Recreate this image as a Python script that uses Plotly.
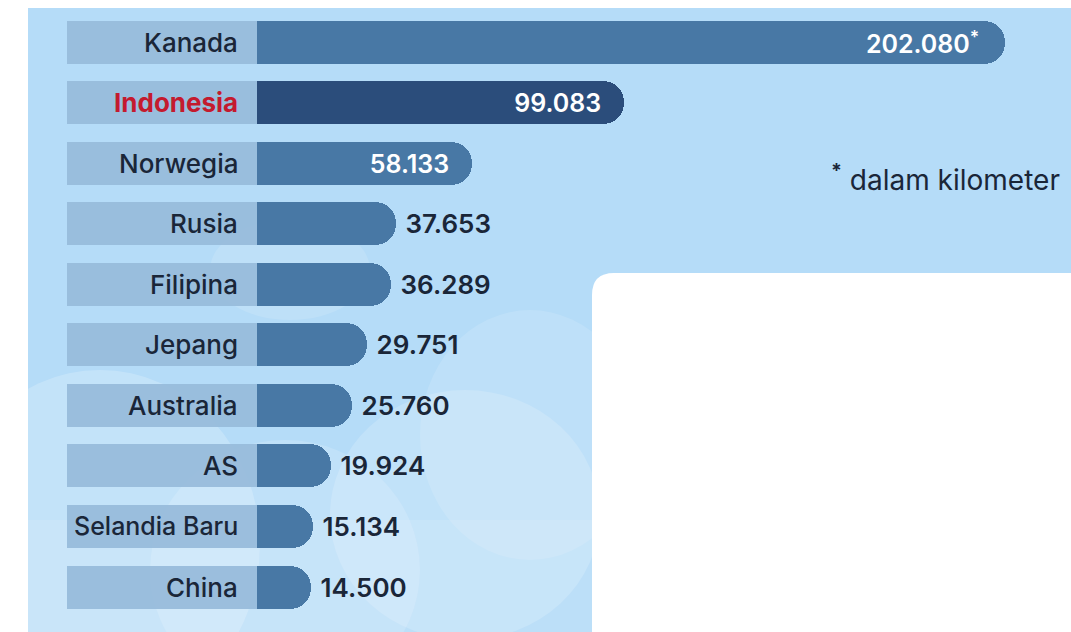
import plotly.graph_objects as go

# ---- data ----
countries = ["Kanada", "Indonesia", "Norwegia", "Rusia", "Filipina",
             "Jepang", "Australia", "AS", "Selandia Baru", "China"]
coastline_km = [202080, 99083, 58133, 37653, 36289,
                29751, 25760, 19924, 15134, 14500]
value_labels = ["202.080<sup>*</sup>", "99.083", "58.133", "37.653", "36.289",
                "29.751", "25.760", "19.924", "15.134", "14.500"]
highlight = "Indonesia"
note_text = "<sup><b>*</b></sup>\u00a0dalam kilometer"

# ---- layout constants (pixels) ----
W, H = 1071, 632
FONT = "Inter"
PX_PER_UNIT = 748 / 202080.0   # axis scale (px per km)
ZERO_PX = 257          # where bars start
BOX_LEFT_PX = 67       # label box left edge
LABEL_RIGHT_PX = 240   # right edge of country names
ROW0_PX = 42           # first row centre
ROW_STEP = 60.56       # row spacing
BAR_H_PX = 43

x_min = -ZERO_PX / PX_PER_UNIT
x_max = (W - ZERO_PX) / PX_PER_UNIT
y_top = -ROW0_PX / ROW_STEP
y_bot = (H - ROW0_PX) / ROW_STEP
bar_w = BAR_H_PX / ROW_STEP
box_len = (ZERO_PX - BOX_LEFT_PX) / PX_PER_UNIT

def fx(px):
    return px / W

def fy(py):
    return 1 - py / H

bar_colors = ["#2b4d7b" if c == highlight else "#4878a5" for c in countries]
positions = ["inside" if i < 3 else "outside" for i in range(len(countries))]
shown_text = [(t + "\u2002") if p == "inside" else ("\u00a0" + t)
              for t, p in zip(value_labels, positions)]

fig = go.Figure()

# label boxes
fig.add_trace(go.Bar(
    y=countries, x=[box_len] * len(countries), base=[-box_len] * len(countries),
    orientation="h", width=bar_w,
    marker=dict(color="rgba(152,188,219,0.95)", line=dict(width=0)),
    hoverinfo="skip", showlegend=False,
))

# value bars
fig.add_trace(go.Bar(
    y=countries, x=coastline_km, orientation="h", width=bar_w,
    marker=dict(color=bar_colors, line=dict(width=0), cornerradius=BAR_H_PX // 2),
    text=shown_text, textposition=positions, insidetextanchor="end",
    insidetextfont=dict(family=FONT, size=25, color="white", weight=600),
    outsidetextfont=dict(family=FONT, size=26, color="#1a2638", weight=600),
    textangle=0, cliponaxis=False, constraintext="none",
    showlegend=False,
))

annotations = []
for c in countries:
    annotations.append(dict(
        x=-(ZERO_PX - LABEL_RIGHT_PX) / PX_PER_UNIT, y=c, xref="x", yref="y",
        text=c, showarrow=False, xanchor="right", yanchor="middle",
        font=dict(family=FONT, size=26 if c != "Selandia Baru" else 25,
                  color="#c41a2e" if c == highlight else "#1a2638",
                  weight=700 if c == highlight else 500),
    ))
annotations.append(dict(
    x=fx(1062), y=fy(178), xref="paper", yref="paper", text=note_text,
    showarrow=False, xanchor="right", yanchor="middle",
    font=dict(family=FONT, size=28, color="#1a2638"),
))

shapes = [
    # sky background
    dict(type="rect", xref="paper", yref="paper", x0=fx(28), x1=1, y0=0, y1=fy(8),
         fillcolor="#b5dcf8", line=dict(width=0), layer="below"),
    # clouds
    dict(type="circle", xref="paper", yref="paper", x0=fx(-60), x1=fx(260),
         y0=fy(720), y1=fy(370), fillcolor="rgba(255,255,255,0.2)",
         line=dict(width=0), layer="below"),
    dict(type="circle", xref="paper", yref="paper", x0=fx(150), x1=fx(420),
         y0=fy(700), y1=fy(440), fillcolor="rgba(255,255,255,0.15)",
         line=dict(width=0), layer="below"),
    dict(type="circle", xref="paper", yref="paper", x0=fx(330), x1=fx(600),
         y0=fy(640), y1=fy(390), fillcolor="rgba(255,255,255,0.17)",
         line=dict(width=0), layer="below"),
    dict(type="circle", xref="paper", yref="paper", x0=fx(420), x1=fx(640),
         y0=fy(560), y1=fy(310), fillcolor="rgba(255,255,255,0.13)",
         line=dict(width=0), layer="below"),
    dict(type="circle", xref="paper", yref="paper", x0=fx(210), x1=fx(370),
         y0=fy(320), y1=fy(220), fillcolor="rgba(255,255,255,0.12)",
         line=dict(width=0), layer="below"),
    dict(type="rect", xref="paper", yref="paper", x0=fx(28), x1=fx(600),
         y0=0, y1=fy(520), fillcolor="rgba(255,255,255,0.1)",
         line=dict(width=0), layer="below"),
    # white patch at bottom right
    dict(type="path", xref="paper", yref="paper",
         path=(f"M {fx(592)},{fy(632)} L {fx(592)},{fy(295)} "
               f"Q {fx(592)},{fy(273)} {fx(614)},{fy(273)} "
               f"L {fx(1071)},{fy(273)} L {fx(1071)},{fy(632)} Z"),
         fillcolor="white", line=dict(width=0), layer="above"),
]

fig.update_layout(
    width=W, height=H, margin=dict(l=0, r=0, t=0, b=0),
    paper_bgcolor="white", plot_bgcolor="rgba(0,0,0,0)",
    barmode="overlay", bargap=0,
    xaxis=dict(range=[x_min, x_max], visible=False, fixedrange=True),
    yaxis=dict(range=[y_bot, y_top], visible=False, type="category",
               fixedrange=True, categoryorder="array", categoryarray=countries),
    annotations=annotations, shapes=shapes,
    font=dict(family=FONT),
)

fig.write_html("out.html", config={"displayModeBar": False})

# remove the default page margin so the figure sits at the window origin
with open("out.html", "r", encoding="utf-8") as f:
    html = f.read()
html = html.replace("<body>", '<body style="margin:0;padding:0;overflow:hidden">', 1)
with open("out.html", "w", encoding="utf-8") as f:
    f.write(html)
